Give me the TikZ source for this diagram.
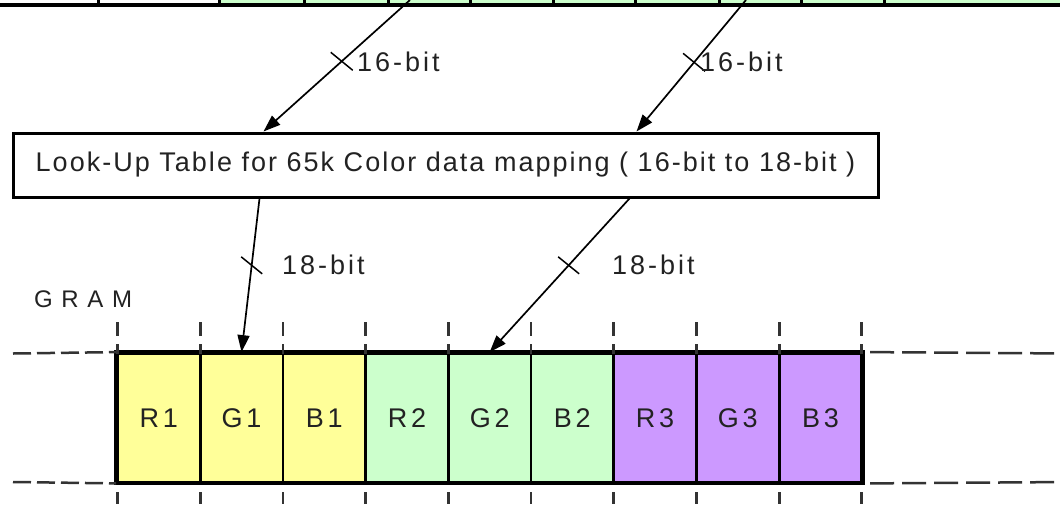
\documentclass[tikz,border=0pt]{standalone}
\usepackage{fontspec}
\setmainfont{Liberation Sans}
\newfontfamily\boxfont[LetterSpace=7.5]{Liberation Sans}
\newfontfamily\lblfont[LetterSpace=11]{Liberation Sans}
\newfontfamily\gramfont[LetterSpace=36]{Liberation Sans}
\newfontfamily\cellfont[LetterSpace=14]{Liberation Sans}
\usetikzlibrary{arrows.meta,calc}
\definecolor{yel}{HTML}{FFFF99}
\definecolor{grn}{HTML}{CCFFCC}
\definecolor{pur}{HTML}{CC99FF}
\definecolor{txt}{HTML}{222222}
\definecolor{dgray}{HTML}{333333}
\begin{document}
\begin{tikzpicture}[x=1pt,y=-1pt,
  cell/.style={draw=black, line width=2.8pt, minimum width=82.7pt, minimum height=128.5pt, inner sep=0pt, font=\cellfont\fontsize{27}{31}\selectfont, text=txt},
  topcell/.style={draw=black, line width=2.5pt, minimum height=20pt, inner sep=0pt, anchor=south west},
  arr/.style={line width=1.7pt, -{Triangle[length=17pt,width=12pt]}},
  slash/.style={line width=1.5pt},
  vdash/.style={line width=2.8pt, draw=dgray, dash pattern=on 13.5pt off 8.5pt},
  vdashlow/.style={line width=2.8pt, draw=dgray, dash pattern=on 13pt off 10pt, dash phase=13pt},
  hdash/.style={line width=2.5pt, draw=dgray, dash pattern=on 18pt off 6pt},
  hdashr/.style={line width=2.5pt, draw=dgray, dash pattern=on 24pt off 8pt},
  lbl/.style={font=\lblfont\fontsize{27}{31}\selectfont, text=txt, anchor=west, inner sep=0pt}]
\useasboundingbox (0,0) rectangle (1060,504);
\fill[white] (0,0) rectangle (1060,504);

% top strip (partially visible)
\foreach \a/\w/\c [count=\i] in {-10/107/white, 97/121/white, 218/85/grn, 303/84/grn, 387/82/grn, 469/83/grn, 552/82/grn, 634/84/grn, 718/82/grn, 800/83/grn, 883/200/grn}
  \node[topcell, fill=\c, minimum width=\w pt] (top\i) at (\a,5.5) {};
\draw[line width=3pt] (top1.south west) -- (top11.south east);

% look-up table
\node[draw=black, line width=3pt, minimum width=865pt, minimum height=64pt, inner sep=0pt,
      font=\boxfont\fontsize{27}{31}\selectfont, text=txt] (lut) at (445.5,165)
  {Look-Up Table for 65k Color data mapping ( 16-bit to 18-bit )};

% GRAM cells
\foreach \n/\t/\c [count=\i from 0] in {r1/R1/yel, g1/G1/yel, b1/B1/yel, r2/R2/grn, g2/G2/grn, b2/B2/grn, r3/R3/pur, g3/G3/pur, b3/B3/pur}
  \node[cell, fill=\c] (\n) at ({117.5+82.7*\i+41.35},417.75) {\t};
\draw[line width=3.8pt] (r1.north west) rectangle (b3.south east);

\node[font=\gramfont\fontsize{24}{28}\selectfont, text=txt, anchor=west, inner sep=0pt] (gram) at (34,299) {GRAM};

% dashed guides
\foreach \i in {0,...,9} {
  \draw[vdash] ({117.5+82.7*\i},322) -- ({117.5+82.7*\i},353.5);
  \draw[vdashlow] ({117.5+82.7*\i},482) -- ({117.5+82.7*\i},504);
}
\draw[hdash] (13,353.5) -- (r1.north west);
\draw[hdash] (13,482) -- (r1.south west);
\draw[hdashr] ($(b3.north east)+(7,0)$) -- (1070,353.5);
\draw[hdashr] ($(b3.south east)+(7,0)$) -- (1070,482);

% arrows top -> LUT
\coordinate (s1) at (410,0);
\coordinate (s2) at (746,0);
\path (lut.north west) ++(252,0) coordinate (t1);
\path (lut.north west) ++(625,0) coordinate (t2);
\draw[arr] (s1) -- (t1);
\draw[arr] (s2) -- (t2);
\draw[slash] ($(s1)!0.466!(t1)$) ++(-11,-9) -- ++(22,18);
\draw[slash] ($(s2)!0.474!(t2)$) ++(-11,-9) -- ++(22,18);
\node[lbl] (l1) at (357,62) {16-bit};
\node[lbl] (l2) at (700,62) {16-bit};

% arrows LUT -> GRAM
\path (lut.south west) ++(248,0) coordinate (u1);
\path (lut.south west) ++(618,0) coordinate (u2);
\draw[arr] (u1) -- (g1.north);
\draw[arr] (u2) -- (g2.north);
\draw[slash] ($(u1)!0.435!(g1.north)$) ++(-10.5,-8.5) -- ++(21,17);
\draw[slash] ($(u2)!0.435!(g2.north)$) ++(-10.5,-8.5) -- ++(21,17);
\node[lbl] (l3) at (282,265) {18-bit};
\node[lbl] (l4) at (612,265) {18-bit};
\end{tikzpicture}
\end{document}
